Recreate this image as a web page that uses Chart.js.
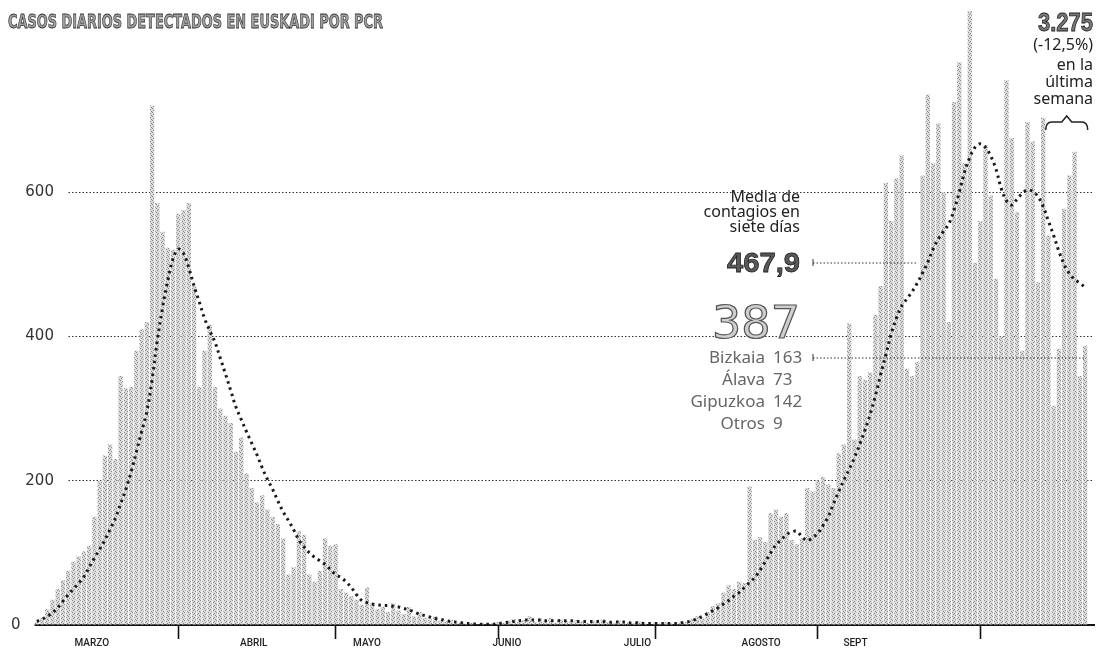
<!DOCTYPE html>
<html lang="es">
<head>
<meta charset="utf-8">
<title>Casos diarios detectados en Euskadi por PCR</title>
<script src="https://cdn.jsdelivr.net/npm/chart.js@4.4.1/dist/chart.umd.min.js"></script>
<style>
  html, body { margin: 0; padding: 0; background: #fff; }
</style>
</head>
<body>
<canvas id="grafico" width="1099" height="650"></canvas>
<script>
// dia 0 = 1 de marzo de 2020, el primer dato es el 5 de marzo (dia 4)
const primerDia = 4;

const casosDiarios = [
    4, 10, 22, 35, 50, 62, 75, 88, 95, 102,
    110, 150, 200, 235, 250, 230, 345, 328, 330, 380,
    410, 420, 720, 585, 545, 523, 520, 570, 575, 585,
    470, 330, 380, 416, 330, 300, 290, 280, 240, 260,
    210, 190, 170, 180, 160, 150, 140, 120, 70, 80,
    130, 125, 70, 60, 75, 120, 110, 112, 50, 45,
    40, 35, 28, 52, 30, 22, 25, 18, 30, 20,
    15, 25, 12, 18, 10, 8, 12, 6, 5, 7,
    3, 4, 2, 3, 1, 2, 1, 2, 4, 3,
    6, 8, 4, 7, 12, 5, 9, 6, 10, 3,
    8, 6, 4, 7, 5, 3, 6, 5, 8, 4,
    3, 6, 2, 4, 3, 5, 2, 1, 3, 2,
    4, 2, 3, 5, 4, 8, 12, 10, 18, 26,
    30, 45, 55, 50, 60, 58, 192, 118, 122, 115,
    155, 160, 150, 155, 118, 112, 120, 190, 185, 200,
    205, 195, 190, 238, 250, 418, 257, 345, 340, 350,
    430, 470, 613, 560, 619, 651, 355, 345, 365, 623,
    735, 640, 695, 600, 420, 725, 780, 640, 880, 502,
    560, 665, 595, 480, 400, 755, 675, 572, 380, 697,
    670, 475, 703, 540, 304, 383, 577, 623, 656, 345,
    387
];

const mediaSieteDias = [
    5, 8, 12, 17, 24, 33, 42, 50, 58, 67,
    80, 93, 105, 118, 133, 148, 168, 188, 212, 240,
    268, 296, 340, 395, 440, 478, 508, 521, 515, 495,
    470, 448, 425, 408, 392, 370, 348, 325, 302, 285,
    268, 252, 236, 218, 202, 188, 172, 157, 145, 132,
    118, 108, 100, 94, 89, 84, 77, 70, 66, 60,
    52, 42, 34, 31, 29, 28, 27, 27, 26, 25,
    23, 21, 18, 15, 13, 11, 9, 8, 6, 5,
    4, 3, 2, 2, 1, 1, 1, 1, 2, 3,
    4, 5, 6, 7, 7, 7, 7, 6, 6, 6,
    6, 6, 6, 5, 5, 5, 5, 5, 5, 4,
    4, 4, 4, 3, 3, 3, 2, 2, 2, 2,
    2, 2, 2, 3, 4, 6, 9, 12, 16, 20,
    24, 29, 34, 40, 45, 52, 59, 66, 76, 88,
    100, 111, 118, 125, 129, 130, 122, 117, 121, 127,
    138, 150, 168, 185, 201, 216, 232, 250, 270, 292,
    318, 347, 375, 403, 425, 442, 452, 462, 474, 488,
    503, 521, 535, 546, 556, 575, 600, 628, 648, 662,
    667, 662, 650, 632, 605, 588, 582, 590, 598, 603,
    601, 594, 580, 560, 540, 518, 500, 487, 479, 474,
    467.9
];

// 1 de abril, mayo, junio, julio, agosto y septiembre
const diasInicioMes = [31, 61, 92, 122, 153, 184];
const etiquetasMes = ['MARZO', 'ABRIL', 'MAYO', 'JUNIO', 'JULIO', 'AGOSTO', 'SEPT'];
const posicionEtiquetas = [14.5, 45.4, 67, 93.7, 118.6, 142.2, 160.2];
const ticksY = [0, 200, 400, 600];

const ultimoDia = '387';
const mediaUltima = '467,9';
const totalSemana = '3.275';
const variacionSemana = '(-12,5%)';
const territorios = ['Bizkaia', 'Álava', 'Gipuzkoa', 'Otros'];
const casosTerritorio = [163, 73, 142, 9];

// trama de puntos para imitar el gris de la impresion
const trama = document.createElement('canvas');
trama.width = 4;
trama.height = 4;
const tc = trama.getContext('2d');
tc.fillStyle = '#dcdcdc';
tc.fillRect(0, 0, 4, 4);
tc.fillStyle = '#8a8a8a';
tc.fillRect(0, 0, 1, 1);
tc.fillRect(2, 1, 1, 1);
tc.fillRect(1, 2, 1, 1);
tc.fillRect(3, 3, 1, 1);
const patronBarras = tc.createPattern(trama, 'repeat');

function textoAjustado(ctx, texto, x, y, ancho, alinear, relleno, trazo, grosor) {
    const w = ctx.measureText(texto).width;
    ctx.save();
    ctx.translate(x, y);
    ctx.scale(ancho / w, 1);
    ctx.textAlign = alinear;
    ctx.fillStyle = relleno;
    ctx.fillText(texto, 0, 0);
    if (trazo) {
        ctx.strokeStyle = trazo;
        ctx.lineWidth = grosor;
        ctx.strokeText(texto, 0, 0);
    }
    ctx.restore();
}

function lineaGuia(ctx, x1, x2, y) {
    ctx.save();
    ctx.strokeStyle = '#333';
    ctx.lineWidth = 1;
    ctx.setLineDash([1.5, 2]);
    ctx.beginPath();
    ctx.moveTo(x1, y);
    ctx.lineTo(x2, y);
    ctx.stroke();
    ctx.setLineDash([]);
    ctx.beginPath();
    ctx.moveTo(x1, y - 4);
    ctx.lineTo(x1, y + 3);
    ctx.stroke();
    ctx.restore();
}

const anotaciones = {
    id: 'anotaciones',
    afterDraw(chart) {
        const ctx = chart.ctx;
        const ex = chart.scales.x;
        ctx.save();
        ctx.textBaseline = 'alphabetic';

        ctx.font = 'bold 19px "DejaVu Sans"';
        textoAjustado(ctx, 'CASOS DIARIOS DETECTADOS EN EUSKADI POR PCR', 8, 28, 375, 'left', '#a0a0a0', '#333', 0.8);

        ctx.fillStyle = '#222';
        ctx.textAlign = 'right';
        ctx.font = '16px "Noto Sans"';
        ctx.fillText('Media de', 800, 202);
        ctx.fillText('contagios en', 800, 217);
        ctx.fillText('siete días', 800, 232);

        ctx.font = 'bold 28px "Liberation Sans"';
        textoAjustado(ctx, mediaUltima, 800, 272, 73, 'right', '#5a5a5a', '#222', 0.8);
        lineaGuia(ctx, 813, 918, 263);

        ctx.font = '44px "DejaVu Sans"';
        textoAjustado(ctx, ultimoDia, 800, 338, 88, 'right', '#cfcfcf', '#555', 1.2);

        ctx.font = '17px "Noto Sans"';
        ctx.fillStyle = '#666';
        territorios.forEach((t, i) => {
            const y = 363 + i * 22;
            ctx.textAlign = 'right';
            ctx.fillText(t, 765, y);
            ctx.textAlign = 'left';
            ctx.fillText(String(casosTerritorio[i]), 773, y);
        });
        lineaGuia(ctx, 813, ex.getPixelForValue(primerDia + casosDiarios.length - 1), 358);

        ctx.font = 'bold 25px "Liberation Sans"';
        textoAjustado(ctx, totalSemana, 1093, 31, 55, 'right', '#777', '#222', 0.8);
        ctx.fillStyle = '#222';
        ctx.textAlign = 'right';
        ctx.font = '16px "Noto Sans"';
        ctx.fillText(variacionSemana, 1093, 50);
        ctx.fillText('en la', 1093, 70);
        ctx.fillText('última', 1093, 87);
        ctx.fillText('semana', 1093, 104);

        // llave sobre la ultima semana
        const ultimo = primerDia + casosDiarios.length - 1;
        const xi = ex.getPixelForValue(ultimo - 7.5);
        const xf = ex.getPixelForValue(ultimo + 0.5);
        const xm = (xi + xf) / 2;
        ctx.strokeStyle = '#222';
        ctx.lineWidth = 1.5;
        ctx.beginPath();
        ctx.moveTo(xi, 130);
        ctx.quadraticCurveTo(xi, 122, xi + 6, 122);
        ctx.lineTo(xm - 5, 122);
        ctx.lineTo(xm, 116);
        ctx.lineTo(xm + 5, 122);
        ctx.lineTo(xf - 6, 122);
        ctx.quadraticCurveTo(xf, 122, xf, 130);
        ctx.stroke();
        ctx.restore();
    }
};

const ctx = document.getElementById('grafico').getContext('2d');
new Chart(ctx, {
    data: {
        datasets: [{
            type: 'line',
            label: 'Media de siete días',
            data: mediaSieteDias.map((v, i) => ({ x: primerDia + i, y: v })),
            borderColor: '#1a1a1a',
            borderWidth: 3,
            borderDash: [2.5, 4],
            pointRadius: 0,
            tension: 0.35,
            order: 0
        }, {
            type: 'bar',
            label: 'Casos diarios',
            data: casosDiarios.map((v, i) => ({ x: primerDia + i, y: v })),
            backgroundColor: patronBarras,
            borderWidth: 0,
            barPercentage: 0.82,
            categoryPercentage: 1,
            order: 1
        }]
    },
    options: {
        responsive: false,
        animation: false,
        devicePixelRatio: 1,
        layout: { padding: { left: 5, right: 5, top: 0, bottom: 3 } },
        plugins: {
            legend: { display: false },
            tooltip: { enabled: false }
        },
        scales: {
            x: {
                type: 'linear',
                min: -1.3,
                max: 205.7,
                offset: false,
                afterBuildTicks: (eje) => {
                    eje.ticks = diasInicioMes.concat(posicionEtiquetas)
                        .sort((a, b) => a - b)
                        .map(v => ({ value: v }));
                },
                border: { display: true, color: '#111', width: 2 },
                grid: {
                    offset: false,
                    drawOnChartArea: false,
                    drawTicks: true,
                    tickLength: 14,
                    tickWidth: 1.6,
                    tickColor: (c) => (c.tick && diasInicioMes.includes(c.tick.value)) ? '#111' : 'rgba(0,0,0,0)'
                },
                ticks: {
                    autoSkip: false,
                    maxRotation: 0,
                    padding: -2,
                    color: '#222',
                    font: { family: 'Roboto', size: 10, weight: '500' },
                    callback: (v) => {
                        const i = posicionEtiquetas.indexOf(v);
                        return i >= 0 ? etiquetasMes[i] : '';
                    }
                }
            },
            y: {
                min: 0,
                max: 851,
                z: 1,
                afterBuildTicks: (eje) => {
                    eje.ticks = ticksY.map(v => ({ value: v }));
                },
                border: { display: false, dash: [1.5, 2] },
                grid: {
                    drawTicks: false,
                    color: (c) => (c.tick && c.tick.value === 0) ? 'rgba(0,0,0,0)' : '#333',
                    lineWidth: 1
                },
                ticks: {
                    mirror: true,
                    padding: 2,
                    color: '#333',
                    font: { family: 'DejaVu Sans', size: 15 },
                    showLabelBackdrop: true,
                    backdropColor: '#fff',
                    backdropPadding: { top: 2, bottom: 2, left: 4, right: 14 },
                    callback: (v) => v === 0 ? '0' : '   ' + v
                }
            }
        }
    },
    plugins: [anotaciones]
});
</script>
</body>
</html>
